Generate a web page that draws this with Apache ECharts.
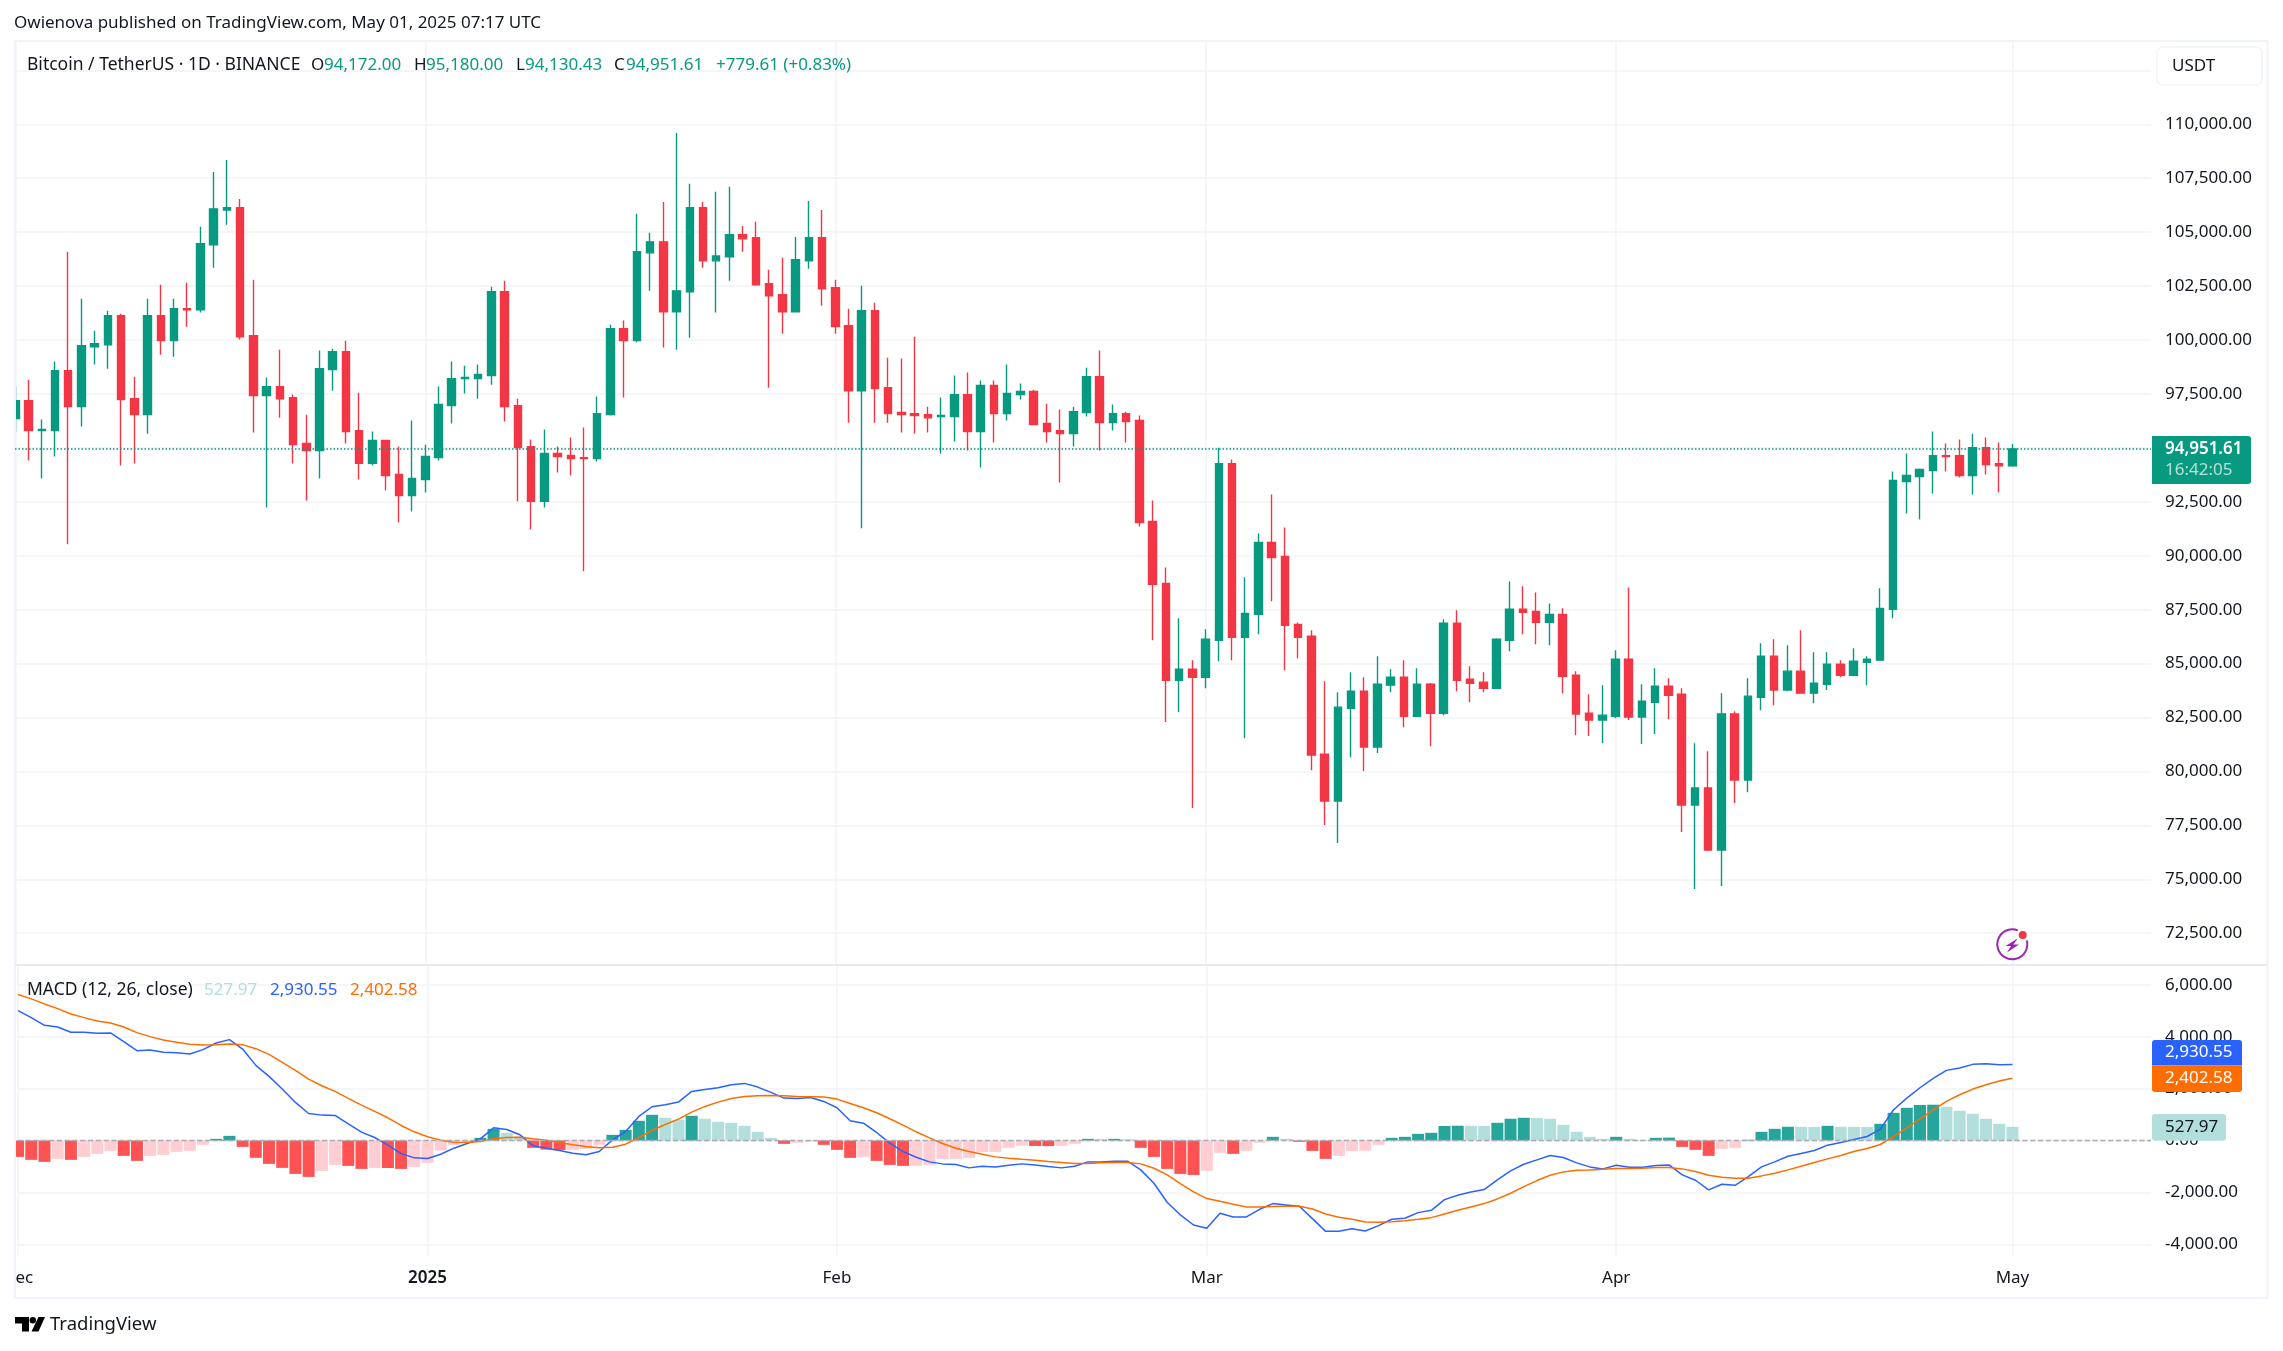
<!DOCTYPE html>
<html>
<head>
<meta charset="utf-8">
<title>BTCUSDT 1D</title>
<style>
  html, body { margin: 0; padding: 0; background: #fff; }
  #chart { width: 2283px; height: 1351px; }
</style>
<script src="https://cdn.jsdelivr.net/npm/echarts@6/dist/echarts.min.js"></script>
</head>
<body>
<div id="chart"></div>
<script>
// one entry per day, index 0 = Dec 1 2024, index 151 = May 1 2025
const openPrices = [
  96360, 97190, 95800, 95800, 98580, 96910, 99690, 99780, 101130, 97280,
  96540, 101130, 99970, 101450, 101400, 104410, 106030, 106130, 100200, 97420,
  97840, 97330, 95200, 94880, 98630, 99460, 95800, 94280, 95340, 93770,
  92790, 93530, 94550, 96960, 98210, 98210, 98350, 102240, 96960, 95060,
  92520, 94740, 94650, 94550, 94510, 96540, 100520, 99970, 104040, 104550,
  101310, 102240, 106130, 103670, 103860, 104880, 104740, 102610, 102100, 101310,
  103670, 104740, 102420, 100660, 97650, 101360, 97790, 96640, 96590, 96540,
  96450, 96450, 97470, 95760, 97890, 96590, 97470, 97610, 96130, 95800,
  95660, 96640, 98300, 96170, 96590, 96270, 91590, 88720, 84230, 84740,
  84370, 86080, 94270, 86220, 87280, 90620, 89970, 86820, 86270, 80800,
  78630, 82930, 83720, 81130, 84000, 84370, 82560, 84040, 82700, 86870,
  84280, 84140, 83860, 86080, 87520, 87420, 86910, 87280, 84460, 82700,
  82380, 82560, 85200, 82520, 83210, 83950, 83580, 78440, 79230, 76360,
  82660, 79600, 83440, 85340, 83770, 84650, 83630, 84040, 84970, 84460,
  85060, 85160, 87520, 93440, 93670, 93950, 94640, 94640, 93720, 95010,
  94270, 94172
];
const highPrices = [
  97840, 98160, 96310, 99000, 104090, 101910, 100430, 101360, 101220, 98300,
  101910, 102560, 101910, 102650, 105250, 107790, 108350, 106540, 102790, 98260,
  99550, 97470, 96540, 99510, 99600, 99970, 97560, 95760, 95340, 95060,
  96270, 95150, 97840, 99000, 98810, 98860, 102470, 102750, 97280, 95390,
  95850, 95060, 95480, 95940, 97380, 100710, 100900, 105850, 104970, 106400,
  109600, 107240, 106400, 106870, 107100, 105290, 105480, 103260, 103810, 104780,
  106450, 106030, 102790, 101450, 102520, 101730, 99180, 99140, 100150, 96910,
  97330, 98350, 98490, 98120, 98120, 98860, 97980, 97700, 97050, 96780,
  96910, 98720, 99510, 97010, 96680, 96500, 92560, 89460, 87100, 85160,
  86590, 95010, 94460, 89000, 91030, 92840, 91310, 86910, 86540, 84180,
  83670, 84600, 84370, 85340, 84740, 85160, 84780, 84100, 87050, 87470,
  84880, 84600, 86170, 88810, 88580, 88300, 87790, 87560, 84650, 83580,
  84000, 85620, 88530, 84040, 84780, 84320, 83860, 81310, 80940, 83630,
  82790, 84320, 85940, 86130, 85850, 86540, 85530, 85530, 85160, 85710,
  85340, 88490, 93900, 94740, 94040, 95760, 95200, 95390, 95660, 95480,
  95250, 95180
];
const lowPrices = [
  95710, 94410, 93580, 94600, 90530, 95990, 98860, 98670, 94180, 94280,
  95660, 99320, 99230, 100620, 101270, 103350, 105340, 100020, 95710, 92240,
  96400, 94280, 92560, 93580, 97650, 95200, 93530, 94180, 93030, 91540,
  92050, 92930, 94410, 96130, 97520, 97280, 97930, 96220, 92520, 91220,
  92240, 93860, 93720, 89280, 94370, 96500, 97330, 99900, 102280, 99650,
  99550, 100110, 103350, 101270, 102750, 104090, 102520, 97790, 100290, 101270,
  103300, 101590, 100290, 96170, 91270, 96170, 96170, 95710, 95660, 95710,
  94740, 95290, 94880, 94090, 95250, 96270, 97240, 96050, 95250, 93400,
  95060, 96450, 94880, 95800, 95250, 91360, 86080, 82290, 82750, 78300,
  83860, 85110, 85160, 81540, 86360, 87890, 84690, 85250, 80060, 77520,
  76680, 80660, 80020, 80850, 83670, 82050, 82520, 81170, 82610, 83720,
  83210, 83670, 83820, 85570, 86360, 85900, 85850, 83630, 81680, 81640,
  81310, 82470, 82380, 81270, 81730, 82420, 77190, 74550, 76310, 74690,
  78540, 79040, 82840, 83070, 83720, 83600, 83160, 83770, 84370, 84410,
  84000, 85150, 87100, 91960, 91680, 92890, 93900, 93630, 92840, 93770,
  92930, 94130.43
];
const closePrices = [
  97190, 95800, 95850, 98580, 96910, 99740, 99830, 101130, 97240, 96540,
  101130, 99970, 101450, 101400, 104460, 106080, 106130, 100150, 97420, 97840,
  97280, 95150, 94880, 98670, 99460, 95760, 94280, 95340, 93720, 92790,
  93580, 94600, 97010, 98210, 98260, 98400, 102240, 96910, 95020, 92520,
  94740, 94600, 94510, 94510, 96590, 100520, 99970, 104090, 104550, 101310,
  102280, 106130, 103670, 103900, 104880, 104690, 102560, 102050, 101310, 103720,
  104740, 102380, 100620, 97650, 101360, 97750, 96590, 96540, 96500, 96400,
  96500, 97470, 95760, 97890, 96590, 97520, 97610, 96080, 95760, 95660,
  96680, 98300, 96170, 96590, 96220, 91540, 88670, 84230, 84740, 84370,
  86130, 94270, 86220, 87330, 90620, 89920, 86780, 86220, 80760, 78630,
  82980, 83720, 81130, 84040, 84370, 82560, 84040, 82700, 86870, 84230,
  84090, 83860, 86130, 87520, 87380, 86910, 87280, 84410, 82660, 82380,
  82610, 85200, 82520, 83260, 83950, 83530, 78440, 79230, 76360, 82660,
  79600, 83490, 85340, 83770, 84650, 83630, 84090, 84970, 84460, 85110,
  85200, 87560, 93490, 93720, 94000, 94640, 94600, 93720, 95010, 94230,
  94170, 94951.61
];
const macdLine = [
  5006, 4736, 4440, 4376, 4170, 4170, 4131, 4144, 3810, 3462,
  3488, 3398, 3385, 3333, 3501, 3758, 3887, 3526, 2896, 2471,
  1982, 1467, 1042, 978, 965, 644, 322, 116, -180, -502,
  -669, -695, -528, -296, -116, 64, 489, 425, 219, -206,
  -296, -386, -489, -553, -425, 26, 347, 927, 1300, 1377,
  1480, 1892, 1969, 2033, 2149, 2201, 2059, 1853, 1634, 1622,
  1660, 1506, 1261, 759, 669, 309, -103, -425, -644, -824,
  -901, -927, -1055, -991, -1017, -952, -901, -940, -1004, -1055,
  -991, -824, -824, -798, -798, -1133, -1647, -2381, -2870, -3256,
  -3385, -2806, -2947, -2947, -2651, -2432, -2484, -2535, -3012, -3501,
  -3501, -3398, -3488, -3282, -3037, -2999, -2780, -2690, -2278, -2111,
  -1982, -1892, -1519, -1171, -914, -746, -579, -656, -862, -1017,
  -1094, -952, -1030, -1030, -965, -940, -1326, -1532, -1905, -1686,
  -1725, -1390, -1017, -824, -605, -502, -386, -180, -77, 39,
  154, 438, 1184, 1634, 2033, 2394, 2703, 2793, 2934, 2960,
  2921, 2930.55
];
const signalLine = [
  5624, 5457, 5264, 5084, 4878, 4736, 4607, 4530, 4376, 4157,
  4003, 3874, 3784, 3707, 3681, 3694, 3719, 3694, 3539, 3320,
  3012, 2703, 2368, 2111, 1892, 1622, 1364, 1120, 875, 579,
  335, 142, 13, -64, -77, -39, 64, 116, 129, 64,
  13, -77, -167, -232, -283, -257, -142, 116, 386, 618,
  824, 1094, 1313, 1480, 1622, 1699, 1725, 1737, 1725, 1699,
  1686, 1673, 1596, 1429, 1261, 1068, 837, 592, 335, 103,
  -116, -296, -425, -528, -631, -682, -721, -759, -811, -849,
  -888, -888, -862, -849, -849, -901, -1068, -1326, -1660, -1982,
  -2239, -2342, -2458, -2561, -2561, -2548, -2535, -2535, -2638, -2831,
  -2960, -3037, -3140, -3153, -3127, -3089, -3037, -2973, -2831, -2690,
  -2561, -2432, -2252, -2033, -1776, -1544, -1338, -1210, -1145, -1133,
  -1107, -1081, -1081, -1068, -1042, -1042, -1094, -1197, -1338, -1416,
  -1454, -1454, -1364, -1261, -1133, -991, -849, -708, -579, -425,
  -309, -154, 154, 489, 824, 1184, 1506, 1763, 1982, 2149,
  2291, 2402.58
];
const histogram = [
  -631, -746, -824, -708, -746, -631, -515, -399, -592, -785,
  -592, -553, -438, -399, -167, 64, 180, -245, -669, -901,
  -1055, -1287, -1403, -1171, -940, -978, -1094, -1055, -1060, -1094,
  -1017, -862, -386, -167, -77, 103, 450, 296, 154, -283,
  -350, -370, -362, -322, -167, 219, 412, 759, 991, 875,
  798, 952, 837, 721, 682, 566, 335, 103, -129, -90,
  -51, -167, -360, -669, -631, -785, -940, -978, -970, -940,
  -715, -708, -669, -445, -438, -283, -200, -210, -215, -205,
  -129, 64, 60, 64, 50, -283, -631, -1094, -1287, -1326,
  -1171, -476, -515, -399, -90, 142, 64, -51, -399, -708,
  -592, -405, -395, -167, 103, 142, 257, 296, 560, 570,
  566, 560, 682, 837, 875, 870, 837, 605, 335, 142,
  64, 142, 64, 26, 103, 110, -245, -360, -592, -322,
  -283, 26, 335, 450, 528, 526, 524, 566, 530, 528,
  526, 644, 1068, 1261, 1370, 1380, 1300, 1145, 1030, 837,
  644, 527.97
];

const monthTicks = [0, 31, 62, 90, 121, 151];
const monthLabels = ['Dec', '2025', 'Feb', 'Mar', 'Apr', 'May'];
const priceTicks = [112500, 110000, 107500, 105000, 102500, 100000, 97500, 95000, 92500, 90000, 87500, 85000, 82500, 80000, 77500, 75000, 72500];
const priceLabels = [110000, 107500, 105000, 102500, 100000, 97500, 95000, 92500, 90000, 87500, 85000, 82500, 80000, 77500, 75000, 72500];
const macdTicks = [6000, 4000, 2000, 0, -2000, -4000];

const lastClose = 94951.61;
const countdown = '16:42:05';

const FONT = '"Noto Sans", sans-serif';
const TEXT = '#131722';
const GREEN = '#089981';
const RED = '#f23645';
const GRID = '#f2f3f6';
const FRAME = '#f0f3fa';
const BLUE = '#2962ff';
const ORANGE = '#ff6d00';

function money(v) {
  return v.toLocaleString('en-US', { minimumFractionDigits: 2, maximumFractionDigits: 2 });
}

function histColor(v, i) {
  const prev = i > 0 ? histogram[i - 1] : null;
  if (v >= 0) return prev === null || v > prev ? '#26a69a' : '#b2dfdb';
  return prev === null || v < prev ? '#ff5252' : '#ffcdd2';
}

function label(x, y, text, fill, size, weight) {
  return {
    type: 'text', x, y, z: 20, silent: true,
    style: { text, fill, font: (weight || 'normal') + ' ' + (size || 17) + 'px ' + FONT, textVerticalAlign: 'middle' }
  };
}

function box(x, y, width, height, fill, r) {
  return { type: 'rect', z: 15, silent: true, shape: { x, y, width, height, r: r || 0 }, style: { fill } };
}

const xIndexAxis = {
  type: 'value',
  min: -0.023,
  max: 161.49,
  axisLine: { show: false },
  axisTick: { show: false, customValues: monthTicks },
  splitLine: { show: true, lineStyle: { color: GRID, width: 1.5 } }
};

const chart = echarts.init(document.getElementById('chart'));
chart.setOption({
  animation: false,
  backgroundColor: '#fff',
  textStyle: { fontFamily: FONT },
  grid: [
    { left: 15, top: 41, width: 2136, height: 924 },
    { left: 15, top: 965, width: 2136, height: 290.7 }
  ],
  xAxis: [
    Object.assign({}, xIndexAxis, { gridIndex: 0, axisLabel: { show: false } }),
    Object.assign({}, xIndexAxis, {
      gridIndex: 1,
      axisLabel: {
        customValues: monthTicks,
        margin: 14,
        fontSize: 17,
        color: TEXT,
        fontFamily: FONT,
        formatter: (v) => {
          const name = monthLabels[monthTicks.indexOf(v)];
          return name === '2025' ? '{b|' + name + '}' : name;
        },
        rich: { b: { fontSize: 17, fontWeight: 600, color: TEXT, fontFamily: FONT } }
      }
    })
  ],
  yAxis: [
    {
      type: 'value', gridIndex: 0, position: 'right', min: 71027, max: 113862,
      axisLine: { show: false },
      axisTick: { show: false, customValues: priceTicks },
      splitLine: { show: true, lineStyle: { color: GRID, width: 1.5 } },
      axisLabel: { customValues: priceLabels, margin: 14, align: 'left', fontSize: 17, color: TEXT, fontFamily: FONT, formatter: money }
    },
    {
      type: 'value', gridIndex: 1, position: 'right', min: -4440, max: 6764,
      axisLine: { show: false },
      axisTick: { show: false, customValues: macdTicks },
      splitLine: { show: true, lineStyle: { color: GRID, width: 1.5 } },
      axisLabel: { customValues: macdTicks, margin: 14, align: 'left', fontSize: 17, color: TEXT, fontFamily: FONT, formatter: money }
    }
  ],
  series: [
    {
      type: 'candlestick',
      xAxisIndex: 0,
      yAxisIndex: 0,
      barWidth: 8,
      clip: true,
      data: openPrices.map((o, i) => [i, o, closePrices[i], lowPrices[i], highPrices[i]]),
      itemStyle: { color: GREEN, color0: RED, borderColor: GREEN, borderColor0: RED, borderWidth: 1.4 },
      markLine: {
        silent: true,
        symbol: 'none',
        label: { show: false },
        lineStyle: { color: GREEN, type: [1.5, 2], width: 1.5 },
        data: [{ yAxis: lastClose }]
      }
    },
    {
      type: 'bar',
      xAxisIndex: 1,
      yAxisIndex: 1,
      barWidth: 12,
      data: histogram.map((v, i) => ({ value: [i, v], itemStyle: { color: histColor(v, i) } })),
      markLine: {
        silent: true,
        symbol: 'none',
        label: { show: false },
        lineStyle: { color: '#a8abb5', type: 'dashed', width: 1.3 },
        data: [{ yAxis: 0 }]
      }
    },
    {
      type: 'line', xAxisIndex: 1, yAxisIndex: 1, showSymbol: false,
      lineStyle: { color: BLUE, width: 1.5 },
      data: macdLine.map((v, i) => [i, v])
    },
    {
      type: 'line', xAxisIndex: 1, yAxisIndex: 1, showSymbol: false,
      lineStyle: { color: ORANGE, width: 1.5 },
      data: signalLine.map((v, i) => [i, v])
    }
  ],
  graphic: [
    // nothing shows left of the frame: first candle, first bar and the D of Dec are cut here
    { type: 'rect', z: 4, silent: true, shape: { x: 0, y: 36, width: 14, height: 1262 }, style: { fill: '#fff' } },
    // frame and pane separator
    { type: 'rect', z: 5, silent: true, shape: { x: 15, y: 41, width: 2252.5, height: 1256.7 }, style: { fill: 'none', stroke: FRAME, lineWidth: 2 } },
    { type: 'line', z: 5, silent: true, shape: { x1: 15, y1: 965, x2: 2267, y2: 965 }, style: { stroke: '#e0e3eb', lineWidth: 1.5 } },

    label(14, 23, 'Owienova published on TradingView.com, May 01, 2025 07:17 UTC', TEXT, 17),

    label(27, 65, 'Bitcoin / TetherUS · 1D · BINANCE', TEXT, 17.5),
    label(311, 65, 'O', TEXT), label(324, 65, money(openPrices[151]), GREEN),
    label(414, 65, 'H', TEXT), label(426, 65, money(highPrices[151]), GREEN),
    label(516, 65, 'L', TEXT), label(525, 65, money(lowPrices[151]), GREEN),
    label(614, 65, 'C', TEXT), label(626, 65, money(closePrices[151]), GREEN),
    label(716, 65, '+779.61 (+0.83%)', GREEN),

    label(27, 990, 'MACD (12, 26, close)', TEXT, 17.5),
    label(204, 990, money(histogram[151]), '#b2dfdb'),
    label(270, 990, money(macdLine[151]), BLUE),
    label(350, 990, money(signalLine[151]), ORANGE),

    // USDT button
    { type: 'rect', z: 15, silent: true, shape: { x: 2157, y: 47, width: 105, height: 38, r: 6 }, style: { fill: '#fff', stroke: FRAME, lineWidth: 1.5 } },
    label(2172, 66, 'USDT', TEXT, 17),

    // last price tag
    box(2152, 436, 99, 48, GREEN, [0, 3, 3, 0]),
    label(2165, 449.5, money(lastClose), '#fff', 17, 600),
    label(2165, 470, countdown, '#b5e0d8', 17),

    // MACD tags
    box(2152, 1040, 90, 25.3, BLUE, [3, 3, 0, 0]),
    label(2165, 1052.6, money(macdLine[151]), '#fff'),
    box(2152, 1065.3, 90, 26.7, ORANGE, [0, 0, 3, 3]),
    label(2165, 1078.6, money(signalLine[151]), '#fff'),
    box(2152, 1114, 74, 26.7, '#b2dfdb', 3),
    label(2165, 1127.5, money(histogram[151]), TEXT),

    // flash icon
    { type: 'arc', z: 15, silent: true, shape: { cx: 2012.3, cy: 944.3, r: 15, startAngle: -0.08 * Math.PI, endAngle: 1.62 * Math.PI }, style: { fill: 'none', stroke: '#9c27b0', lineWidth: 2 } },
    { type: 'polygon', z: 15, silent: true, shape: { points: [[2017.5, 938.5], [2005.5, 946], [2011, 946], [2007, 952.5], [2019, 944.5], [2013.5, 944.5]] }, style: { fill: '#9c27b0' } },
    { type: 'circle', z: 16, silent: true, shape: { cx: 2022.7, cy: 935, r: 4 }, style: { fill: RED } },

    // TradingView mark
    { type: 'polygon', z: 15, silent: true, shape: { points: [[15, 1317], [29, 1317], [29, 1331.5], [22, 1331.5], [22, 1323.5], [15, 1323.5]] }, style: { fill: '#000' } },
    { type: 'circle', z: 15, silent: true, shape: { cx: 32.8, cy: 1320.2, r: 3.2 }, style: { fill: '#000' } },
    { type: 'polygon', z: 15, silent: true, shape: { points: [[38.5, 1317], [45, 1317], [38.5, 1331.5], [31.5, 1331.5]] }, style: { fill: '#000' } },
    label(50, 1325, 'TradingView', TEXT, 18.5)
  ]
});
</script>
</body>
</html>
